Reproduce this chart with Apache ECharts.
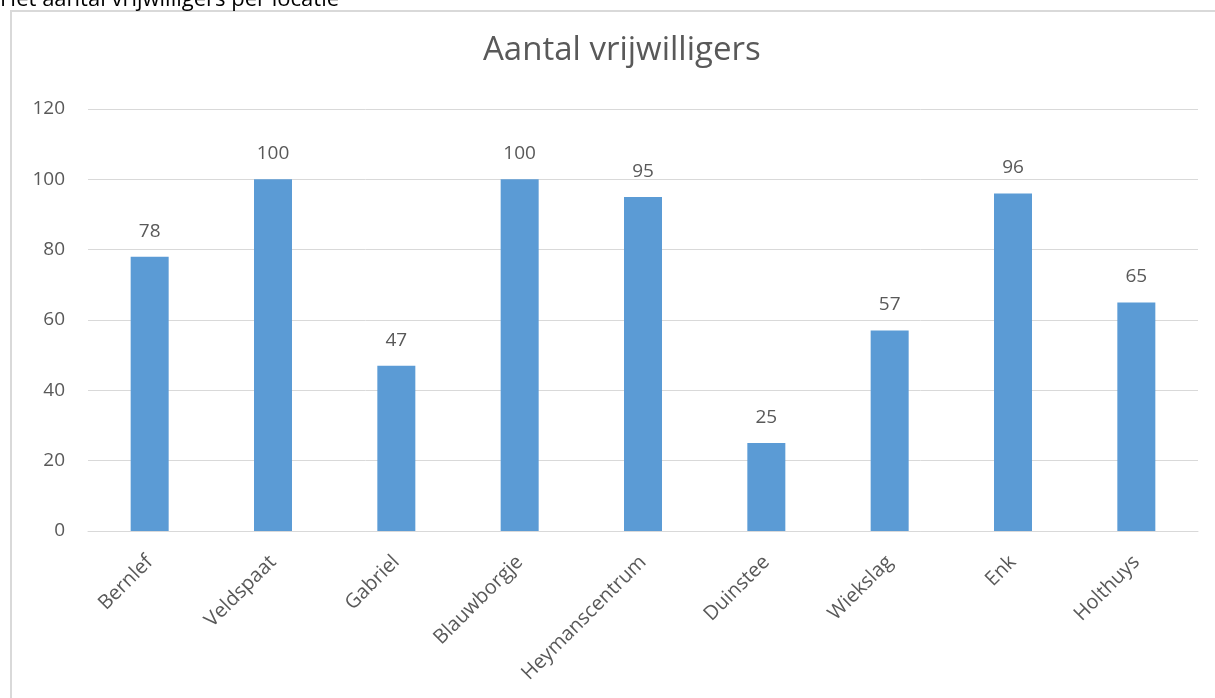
<!DOCTYPE html>
<html>
<head>
<meta charset="utf-8">
<script src="https://cdn.jsdelivr.net/npm/echarts@6/dist/echarts.min.js"></script>
<style>
  html, body { margin: 0; padding: 0; background: #fff; }
  #chart { width: 1215px; height: 698px; }
</style>
</head>
<body>
<div id="chart"></div>
<script>
const categories = ['Bernlef', 'Veldspaat', 'Gabriel', 'Blauwborgje', 'Heymanscentrum', 'Duinstee', 'Wiekslag', 'Enk', 'Holthuys'];
const volunteers = [78, 100, 47, 100, 95, 25, 57, 96, 65];
const yTicks = [0, 20, 40, 60, 80, 100, 120];

const FONT = '"Open Sans", "Noto Sans", sans-serif';
const TEXT = '#595959';
const GRID = '#d9d9d9';

const chart = echarts.init(document.getElementById('chart'), null, { renderer: 'canvas' });

chart.setOption({
  animation: false,
  backgroundColor: '#fff',
  graphic: [
    {
      type: 'text', x: 0, y: 11, z: 10,
      style: {
        text: 'Het aantal vrijwilligers per locatie',
        fill: '#000', font: '22px ' + FONT,
        verticalAlign: 'bottom'
      }
    },
    {
      type: 'rect', z: 0,
      shape: { x: 11, y: 11, width: 1220, height: 700 },
      style: { fill: 'none', stroke: GRID, lineWidth: 2 }
    }
  ],
  title: {
    text: 'Aantal vrijwilligers',
    left: 478,
    top: 29,
    textStyle: { color: TEXT, fontFamily: FONT, fontSize: 33, fontWeight: 'normal' }
  },
  grid: { left: 88, right: 17, top: 109, bottom: 167 },
  xAxis: {
    type: 'category',
    data: categories,
    axisLine: { lineStyle: { color: GRID, width: 1 } },
    axisTick: { show: false },
    axisLabel: {
      rotate: 45, margin: 28, interval: 0,
      color: TEXT, fontFamily: FONT, fontSize: 20
    }
  },
  yAxis: {
    type: 'value',
    min: yTicks[0], max: yTicks[yTicks.length - 1], interval: 20,
    axisLine: { show: false },
    axisTick: { show: false },
    axisLabel: { color: TEXT, fontFamily: FONT, fontSize: 19, margin: 23 },
    splitLine: { lineStyle: { color: GRID, width: 1 } }
  },
  series: [{
    type: 'bar',
    data: volunteers,
    barWidth: 38,
    itemStyle: { color: '#5b9bd5' },
    label: {
      show: true, position: 'top', distance: 16,
      color: TEXT, fontFamily: FONT, fontSize: 19
    }
  }]
});
</script>
</body>
</html>
